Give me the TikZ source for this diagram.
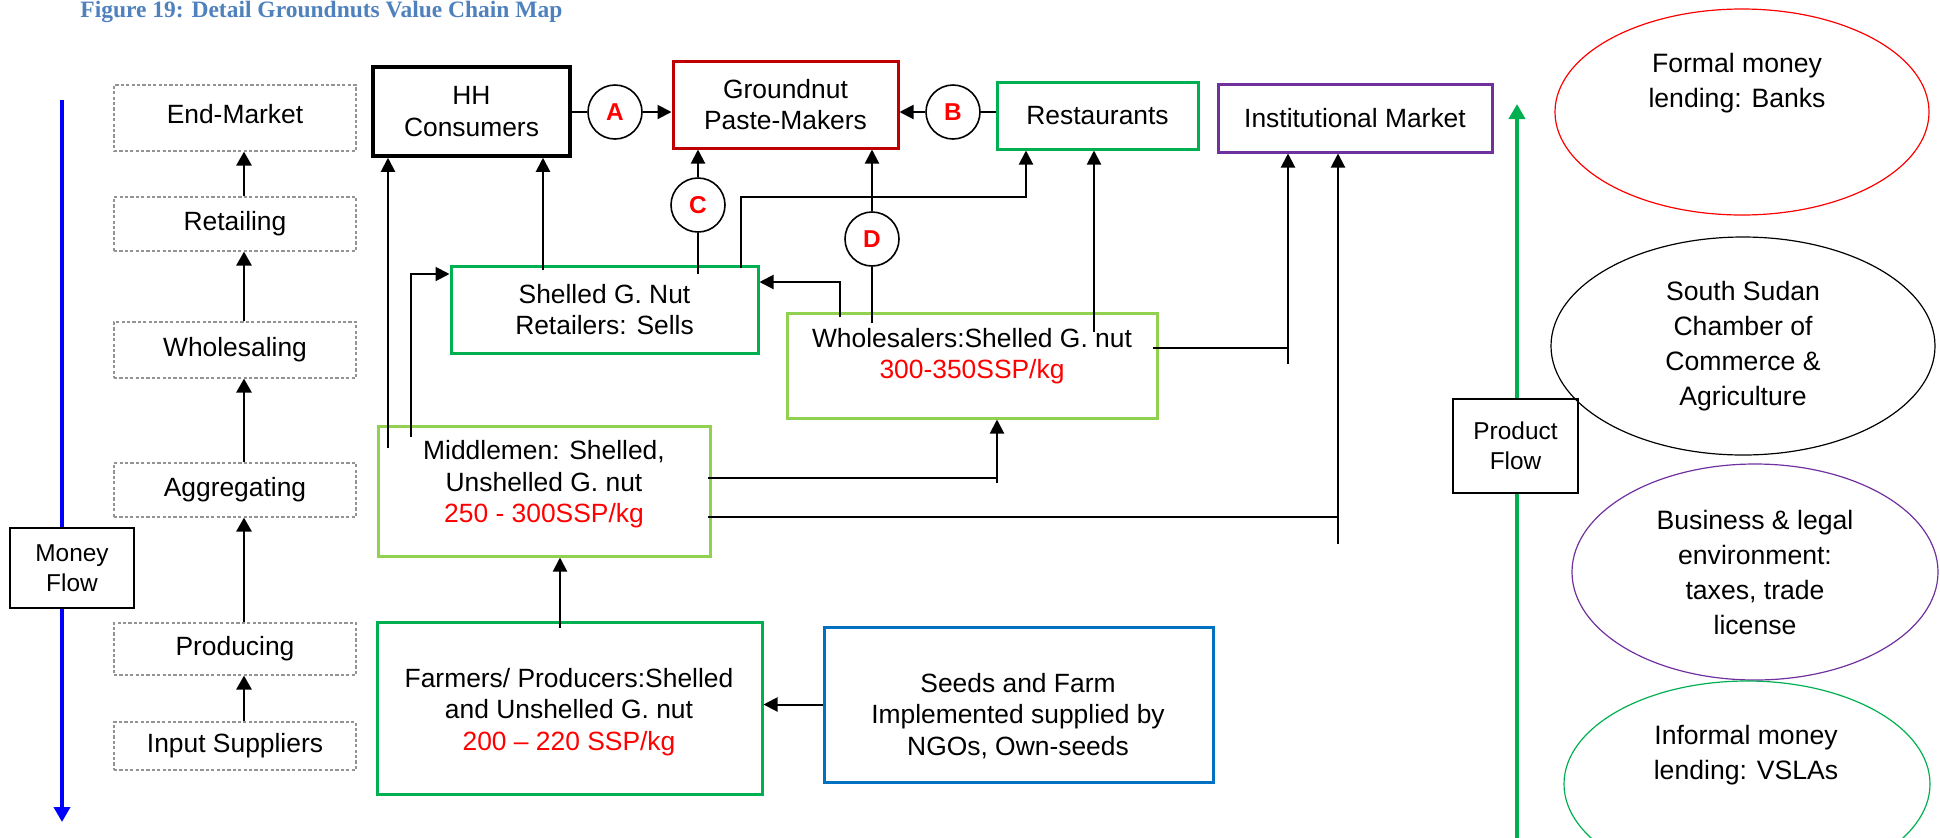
\documentclass[tikz,border=0pt]{standalone}
\usepackage{fontspec}
\setmainfont{Liberation Sans}
\newfontfamily\titlefont{Liberation Serif}
\usetikzlibrary{arrows.meta,shapes.geometric}
\definecolor{pmred}{HTML}{C00000}
\definecolor{grn}{HTML}{00B050}
\definecolor{lgrn}{HTML}{92D050}
\definecolor{purp}{HTML}{7030A0}
\definecolor{sblue}{HTML}{0070C0}
\definecolor{titleblue}{HTML}{4F81BD}
\definecolor{pureblue}{HTML}{0000FF}
\definecolor{pred}{HTML}{FF0000}
\begin{document}
\begin{tikzpicture}[x=0.5pt,y=-0.5pt,
  every node/.style={font=\fontsize{13.2}{15.8}\selectfont, align=center, inner sep=0pt},
  box/.style={draw, rectangle, line width=1.5pt},
  stage/.style={draw=gray!85, line width=0.55pt, dash pattern=on 1.6pt off 1.1pt, minimum width=121pt, rectangle},
  arr/.style={-{Triangle[length=7pt,width=7pt]}, line width=1pt},
  larr/.style={-{Triangle[length=7pt,width=7.5pt]}, line width=1.4pt},
  ln/.style={line width=1pt},
  circ/.style={draw, circle, minimum size=27pt, line width=0.8pt, text=pred, font=\bfseries\fontsize{12.2}{14}\selectfont},
  ell/.style={draw, ellipse, line width=0.6pt},
  etxt/.style={font=\fontsize{13.3}{17.5}\selectfont},
  flowbox/.style={draw, fill=white, line width=0.8pt, rectangle, font=\fontsize{12.2}{15}\selectfont},
  flowarr/.style={-{Triangle[length=7.5pt,width=8pt]}, line width=2pt},
  titlest/.style={font=\titlefont\bfseries\fontsize{11.75}{14}\selectfont, text=titleblue}
]
\useasboundingbox (0,0) rectangle (1940,837);

% title
\node[titlest, anchor=base west] (title) at (80,17) {Figure 19: Detail Groundnuts Value Chain Map};

% money flow
\coordinate (bt) at (62,100); \coordinate (bb) at (62,822);
\draw[flowarr, color=pureblue] (bt) -- (bb);
\node[flowbox, minimum width=62pt, minimum height=40pt] (mf) at (72,568) {Money\\Flow};

% product flow
\coordinate (gb) at (1517,845); \coordinate (gt) at (1517,104);
\draw[flowarr, color=grn] (gb) -- (gt);
\node[flowbox, minimum width=62.5pt, minimum height=47pt] (pf) at (1515.5,446) {Product\\Flow};

% stages
\node[stage, minimum height=33pt, text depth=4pt] (em) at (235,118) {End-Market};
\node[stage, minimum height=27pt] (rt) at (235,224) {Retailing};
\node[stage, minimum height=28pt] (ws) at (235,350) {Wholesaling};
\node[stage, minimum height=27pt] (ag) at (235,490) {Aggregating};
\node[stage, minimum height=26pt] (pr) at (235,649) {Producing};
\node[stage, minimum height=24pt] (is) at (235,746) {Input Suppliers};
\coordinate (colx) at (244,0);
\draw[larr] (is.north -| colx) -- (pr.south -| colx);
\draw[larr] (pr.north -| colx) -- (ag.south -| colx);
\draw[larr] (ag.north -| colx) -- (ws.south -| colx);
\draw[larr] (ws.north -| colx) -- (rt.south -| colx);
\draw[larr] (rt.north -| colx) -- (em.south -| colx);

% actors
\node[box, line width=1.75pt, minimum width=98.5pt, minimum height=44.5pt] (hh) at (471.5,111.5) {HH\\Consumers};
\node[box, draw=pmred, minimum width=112.5pt, minimum height=43.5pt] (pm) at (785.5,104.5) {Groundnut\\Paste-Makers};
\node[box, draw=grn, minimum width=100.5pt, minimum height=33.5pt] (rs) at (1097.5,115.5) {Restaurants};
\node[box, draw=purp, minimum width=137pt, minimum height=34pt] (im) at (1355,118) {Institutional Market};
\node[box, draw=grn, minimum width=153.5pt, minimum height=43.5pt] (rl) at (604.5,309.5) {Shelled G. Nut\\Retailers: Sells};

\node[box, draw=lgrn, minimum width=185pt, minimum height=52.5pt] (wh) at (972,365.5) {};
\node (whT) at (972,356) {Wholesalers:Shelled G. nut\\\textcolor{pred}{300-350SSP/kg}};
\node[box, draw=lgrn, minimum width=166pt, minimum height=65pt] (mm) at (544,491) {};
\node (mmT) at (544,484.5) {Middlemen: Shelled,\\Unshelled G. nut\\\textcolor{pred}{250 - 300SSP/kg}};
\node[box, draw=grn, minimum width=192.5pt, minimum height=86pt] (fp) at (569.5,708) {};
\node (fpT) at (569,712) {Farmers/ Producers:Shelled\\and Unshelled G. nut\\\textcolor{pred}{200 – 220 SSP/kg}};
\node[box, draw=sblue, minimum width=194.5pt, minimum height=77.5pt] (sd) at (1018.5,704.5) {};
\node (sdT) at (1018,716) {Seeds and Farm\\Implemented supplied by\\NGOs, Own-seeds};

% circles
\node[circ] (a) at (615,112) {A};
\node[circ] (b) at (953,112) {B};
\node[circ] (c) at (698,205) {C};
\node[circ] (d) at (872,239) {D};

% ellipses
\node[ell, draw=pred, minimum width=187pt, minimum height=103pt] (fe) at (1742,112) {};
\node[etxt] (feT) at (1737,83) {Formal money\\lending: Banks};
\node[ell, minimum width=192pt, minimum height=109pt, etxt] (ss) at (1743,346) {South Sudan\\Chamber of\\Commerce \&\\Agriculture};
\node[ell, draw=purp, minimum width=183pt, minimum height=108pt, etxt] (bl) at (1755,572) {Business \& legal\\environment:\\taxes, trade\\license};
\node[ell, draw=grn, minimum width=183pt, minimum height=103pt] (ie) at (1747,784) {};
\node[etxt] (ieT) at (1746,755) {Informal money\\lending: VSLAs};

% top connectors
\draw[ln] (hh.east |- a) -- (a);
\draw[arr] (a) -- (pm.west |- a);
\draw[ln] (rs.west |- b) -- (b);
\draw[arr] (b) -- (pm.east |- b);
\coordinate (cb) at (698,274);
\draw[ln] (cb) -- (c);
\draw[arr] (c) -- (c |- pm.south);
\coordinate (db) at (872,323);
\draw[ln] (db) -- (d);
\draw[arr] (d) -- (d |- pm.south);

% to HH
\coordinate (m1) at (388,448);
\draw[arr] (m1) -- (m1 |- hh.south);
\coordinate (r1) at (543,270);
\draw[arr] (r1) -- (r1 |- hh.south);

% middlemen to retailers
\coordinate (m2) at (411,437); \coordinate (m2t) at (411,274);
\draw[arr] (m2) -- (m2t) -- (m2t -| rl.west);

% retailers to restaurants
\coordinate (r2) at (741,268); \coordinate (r2b) at (1026,197);
\draw[arr] (r2) |- (r2b) -- (r2b |- rs.south);

% wholesalers to retailers
\coordinate (w1) at (840,317); \coordinate (w1t) at (840,282);
\draw[arr] (w1) -- (w1t) -- (w1t -| rl.east);

% wholesalers to restaurants
\coordinate (w2) at (1094,332);
\draw[arr] (w2) -- (w2 |- rs.south);

% wholesalers to institutional
\coordinate (w3) at (1153,348); \coordinate (i1) at (1288,364);
\draw[ln] (w3) -- (w3 -| i1);
\draw[arr] (i1) -- (i1 |- im.south);

% middlemen to wholesalers
\coordinate (m3) at (708,478); \coordinate (m3v) at (997,483);
\draw[ln] (m3) -- (m3 -| m3v);
\draw[arr] (m3v) -- (m3v |- wh.south);

% middlemen to institutional
\coordinate (m4) at (708,517); \coordinate (m4v) at (1338,544);
\draw[ln] (m4) -- (m4 -| m4v);
\draw[arr] (m4v) -- (m4v |- im.south);

% farmers to middlemen
\coordinate (f1) at (560,628);
\draw[arr] (f1) -- (f1 |- mm.south);

% seeds to farmers
\draw[arr] (sd.west) -- (sd.west -| fp.east);
\end{tikzpicture}
\end{document}
